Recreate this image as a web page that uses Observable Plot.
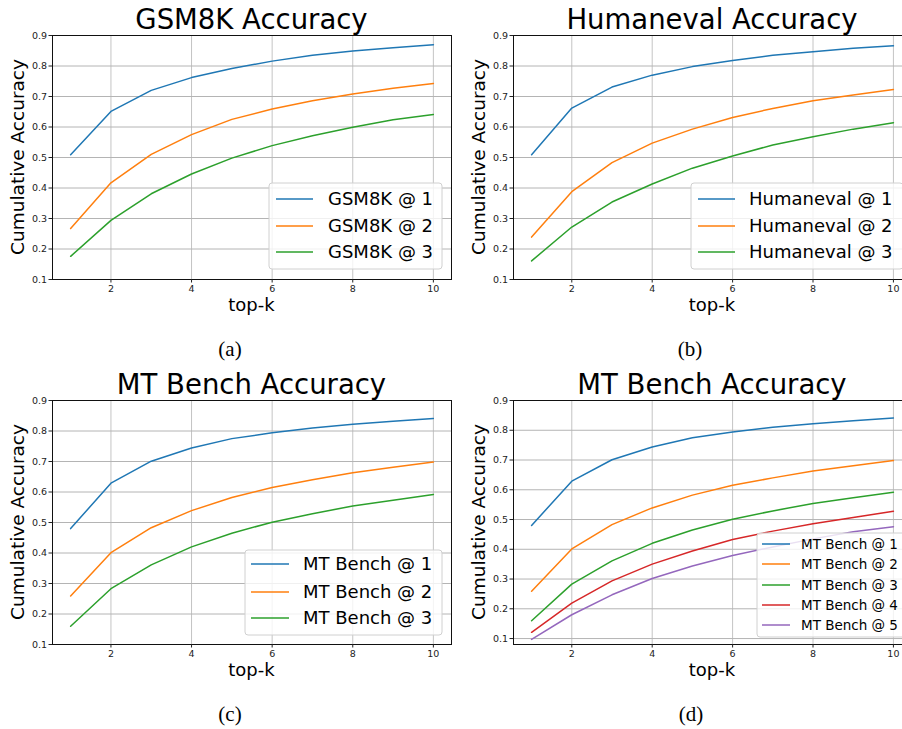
<!DOCTYPE html>
<html><head><meta charset="utf-8">
<script src="https://cdn.jsdelivr.net/npm/d3@7"></script>
<script src="https://cdn.jsdelivr.net/npm/@observablehq/plot@0.6"></script>
<style>
body{margin:0;background:#fff;}
#root{position:relative;width:902px;height:729px;overflow:hidden;font-family:"DejaVu Sans",sans-serif;background:#fff;}
.panel{position:absolute;}
.panel svg{overflow:visible;max-width:none !important;}
#overlay{position:absolute;left:0;top:0;pointer-events:none;}
</style></head>
<body><div id="root"></div>
<script>
const topK = [1,2,3,4,5,6,7,8,9,10];
const xTicks = [2,4,6,8,10];
const yTicks = [0.1,0.2,0.3,0.4,0.5,0.6,0.7,0.8,0.9];
const colors = ["#1f77b4","#ff7f0e","#2ca02c","#d62728","#9467bd"];

const gsm8k1 = [0.509,0.651,0.720,0.762,0.792,0.816,0.835,0.849,0.860,0.870];
const gsm8k2 = [0.267,0.417,0.510,0.575,0.625,0.659,0.686,0.708,0.727,0.743];
const gsm8k3 = [0.176,0.294,0.381,0.446,0.498,0.539,0.571,0.599,0.624,0.641];

const humaneval1 = [0.509,0.662,0.731,0.770,0.798,0.818,0.835,0.847,0.858,0.866];
const humaneval2 = [0.239,0.388,0.483,0.547,0.593,0.631,0.661,0.686,0.705,0.723];
const humaneval3 = [0.161,0.272,0.354,0.413,0.465,0.505,0.541,0.568,0.593,0.614];

const mtBench1 = [0.480,0.629,0.701,0.744,0.775,0.794,0.810,0.822,0.832,0.841];
const mtBench2 = [0.259,0.401,0.483,0.539,0.582,0.615,0.640,0.663,0.681,0.698];
const mtBench3 = [0.160,0.283,0.361,0.420,0.465,0.501,0.529,0.554,0.573,0.592];
const mtBench4 = [0.121,0.219,0.294,0.350,0.394,0.433,0.461,0.486,0.507,0.528];
const mtBench5 = [0.097,0.180,0.247,0.302,0.344,0.379,0.408,0.435,0.459,0.476];

const panels = [
  {left:0, top:0, width:455, mLeft:52, mRight:4, yDomain:[0.1,0.9],
   title:"GSM8K Accuracy", caption:"(a)", capX:230,
   series:[gsm8k1,gsm8k2,gsm8k3], names:["GSM8K @ 1","GSM8K @ 2","GSM8K @ 3"],
   legend:{x:269,y:183,w:173,h:86,rows:[199,226,252],l1:276,l2:313,tx:328,fs:18}},
  {left:451, top:0, width:470, mLeft:62, mRight:10, yDomain:[0.1,0.9],
   title:"Humaneval Accuracy", caption:"(b)", capX:690,
   series:[humaneval1,humaneval2,humaneval3], names:["Humaneval @ 1","Humaneval @ 2","Humaneval @ 3"],
   legend:{x:691,y:183,w:212,h:86,rows:[199,226,252],l1:698,l2:735,tx:749,fs:18}},
  {left:0, top:365, width:455, mLeft:52, mRight:4, yDomain:[0.1,0.9],
   title:"MT Bench Accuracy", caption:"(c)", capX:230,
   series:[mtBench1,mtBench2,mtBench3], names:["MT Bench @ 1","MT Bench @ 2","MT Bench @ 3"],
   legend:{x:245,y:550,w:197,h:85,rows:[564,592,618],l1:251,l2:289,tx:303,fs:18}},
  {left:451, top:365, width:470, mLeft:62, mRight:10, yDomain:[0.08,0.9],
   title:"MT Bench Accuracy", caption:"(d)", capX:691,
   series:[mtBench1,mtBench2,mtBench3,mtBench4,mtBench5],
   names:["MT Bench @ 1","MT Bench @ 2","MT Bench @ 3","MT Bench @ 4","MT Bench @ 5"],
   legend:{x:757,y:533,w:150,h:104,rows:[544,564,585,605,625],l1:762,l2:790,tx:801,fs:13.5}}
];

const root = document.getElementById("root");
const ov = d3.create("svg").attr("id","overlay").attr("width",902).attr("height",729)
  .style("font-family","DejaVu Sans, sans-serif");

for (const p of panels) {
  const rows = p.series.flatMap((s,i)=> s.map((v,j)=>({k:topK[j], v, name:p.names[i]})));
  const chart = Plot.plot({
    width:p.width, height:300,
    marginLeft:p.mLeft, marginRight:p.mRight, marginTop:35, marginBottom:21,
    x:{domain:[0.55,10.45]},
    y:{domain:p.yDomain},
    color:{domain:p.names, range:colors.slice(0,p.names.length)},
    style:{fontFamily:"DejaVu Sans, sans-serif", fontSize:"9.5px", color:"#222", background:"transparent"},
    marks:[
      Plot.gridX(xTicks,{stroke:"#c4c4c4", strokeOpacity:1, strokeWidth:1}),
      Plot.gridY(yTicks,{stroke:"#b4b4b4", strokeOpacity:1, strokeWidth:1}),
      Plot.line(rows,{x:"k", y:"v", z:"name", stroke:"name", strokeWidth:1.5}),
      Plot.frame({stroke:"#111", strokeWidth:1}),
      Plot.axisX(xTicks,{tickSize:3.5, tickPadding:2, label:null, tickFormat:d=>String(d)}),
      Plot.axisY(yTicks,{tickSize:3.5, tickPadding:2, label:null, tickFormat:d3.format(".1f")})
    ]
  });
  const div = document.createElement("div");
  div.className = "panel";
  div.style.left = p.left+"px"; div.style.top = p.top+"px"; div.style.width = p.width+"px";
  div.appendChild(chart);
  root.appendChild(div);

  const cx = p.left + p.mLeft + (p.width - p.mLeft - p.mRight)/2;
  const cy = p.top + 35 + (300-35-21)/2;
  ov.append("text").attr("x",cx).attr("y",p.top+29).attr("text-anchor","middle")
    .attr("font-size",27.5).attr("fill","#000").text(p.title);
  ov.append("text").attr("transform",`translate(${p.left + p.mLeft - 28},${cy}) rotate(-90)`)
    .attr("text-anchor","middle").attr("font-size",18.5).attr("fill","#000").text("Cumulative Accuracy");
  ov.append("text").attr("x",cx).attr("y",p.top+311).attr("text-anchor","middle")
    .attr("font-size",18).attr("fill","#000").text("top-k");
  ov.append("text").attr("x",p.capX).attr("y",p.top+356).attr("text-anchor","middle")
    .attr("font-size",21).attr("font-family","Liberation Serif, serif").attr("fill","#000").text(p.caption);

  const L = p.legend;
  ov.append("rect").attr("x",L.x).attr("y",L.y).attr("width",L.w).attr("height",L.h).attr("rx",3)
    .attr("fill","#fff").attr("fill-opacity",0.8).attr("stroke","#d0d0d0");
  p.names.forEach((n,i)=>{
    ov.append("line").attr("x1",L.l1).attr("x2",L.l2).attr("y1",L.rows[i]).attr("y2",L.rows[i])
      .attr("stroke",colors[i]).attr("stroke-width",1.5);
    ov.append("text").attr("x",L.tx).attr("y",L.rows[i]).attr("dy","0.36em")
      .attr("font-size",L.fs).attr("fill","#000").text(n);
  });
}
root.appendChild(ov.node());
</script>
</body></html>
